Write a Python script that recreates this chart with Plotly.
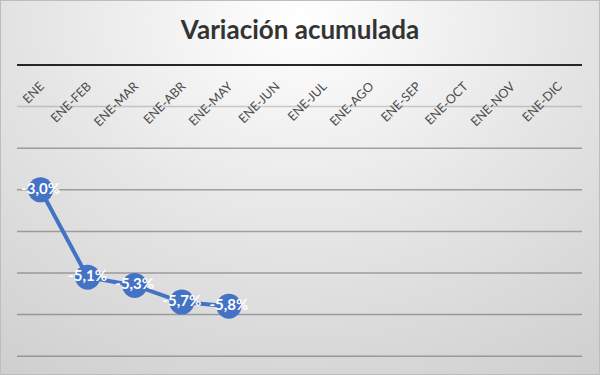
import base64
import plotly.graph_objects as go

categories = ["ENE", "ENE-FEB", "ENE-MAR", "ENE-ABR", "ENE-MAY", "ENE-JUN",
              "ENE-JUL", "ENE-AGO", "ENE-SEP", "ENE-OCT", "ENE-NOV", "ENE-DIC"]
values = [-3.0, -5.1, -5.3, -5.7, -5.8]
labels = [f"{v:.1f}%".replace(".", ",") for v in values]
grid_values = [-1, -2, -3, -4, -5, -6, -7]

svg = """<svg xmlns='http://www.w3.org/2000/svg' width='600' height='375' viewBox='0 0 600 375' preserveAspectRatio='none'>
<defs><radialGradient id='g' cx='50%' cy='5%' r='95%' fx='50%' fy='5%' gradientTransform='translate(0.5,0.05) scale(1,1.3) translate(-0.5,-0.05)'>
<stop offset='0' stop-color='#ffffff'/>
<stop offset='0.45' stop-color='#e6e6e6'/>
<stop offset='1' stop-color='#cbcbcb'/>
</radialGradient></defs>
<rect width='600' height='375' fill='url(#g)'/>
</svg>"""
src = "data:image/svg+xml;base64," + base64.b64encode(svg.encode()).decode()

y_top = 1 - 65 / 375
y_bot = 1 - 357 / 375
x0d, x1d = 17 / 600, 582 / 600

fig = go.Figure()
fig.add_trace(go.Scatter(
    x=categories[:len(values)], y=values, text=labels,
    mode="lines+markers+text",
    line=dict(color="#4472C4", width=4),
    marker=dict(size=25, color="#4472C4"),
    textposition="middle center",
    textfont=dict(family="Lato", size=15, color="white", weight="bold"),
    cliponaxis=False,
    hoverinfo="skip",
))

shapes = []
for g in grid_values:
    shapes.append(dict(type="line", xref="paper", yref="y", x0=x0d, x1=x1d, y0=g, y1=g,
                       line=dict(color="rgba(120,120,120,0.35)" if g == -1 else "rgba(110,110,110,0.6)",
                                 width=1.5),
                       layer="below"))
shapes.append(dict(type="rect", xref="paper", yref="paper", x0=0, y0=0, x1=1, y1=1,
                   line=dict(color="#bdbdbd", width=2), fillcolor="rgba(0,0,0,0)"))

fig.update_layout(
    width=600, height=375,
    margin=dict(l=0, r=0, t=0, b=0, pad=0, autoexpand=False),
    paper_bgcolor="#e4e4e4",
    plot_bgcolor="rgba(0,0,0,0)",
    showlegend=False,
    title=dict(text="Variación acumulada", x=0.5, xanchor="center", y=1 - 30 / 375, yanchor="middle",
               font=dict(family="Lato", size=26, color="#333333", weight="bold"), automargin=False),
    xaxis=dict(
        type="category", categoryorder="array", categoryarray=categories,
        range=[-0.5, len(categories) - 0.5],
        domain=[x0d, x1d],
        anchor="free", position=y_top, side="bottom",
        showline=True, linecolor="#262626", linewidth=2,
        showgrid=False, ticks="", tickangle=-45, automargin=False,
        ticklabelstandoff=8,
        tickfont=dict(family="Lato", size=12.5, color="#4d4d4d"),
        fixedrange=True,
    ),
    yaxis=dict(
        range=[-7.02, 0], domain=[y_bot, y_top],
        showgrid=False, zeroline=False, showticklabels=False, ticks="", automargin=False,
        fixedrange=True,
    ),
    images=[dict(source=src, xref="paper", yref="paper", x=0, y=1, sizex=1, sizey=1,
                 xanchor="left", yanchor="top", sizing="stretch", layer="below")],
    shapes=shapes,
)

fig.write_html("out.html", config={"displayModeBar": False},
               post_script="document.body.style.margin='0';document.body.style.padding='0';")
